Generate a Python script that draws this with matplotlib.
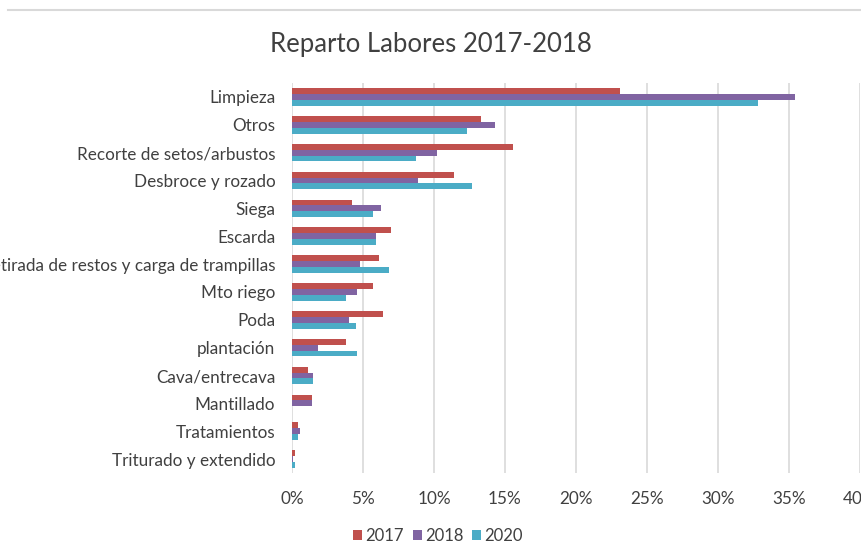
import numpy as np
import matplotlib
matplotlib.use("Agg")
import matplotlib.pyplot as plt
from matplotlib.lines import Line2D
from matplotlib.ticker import PercentFormatter

labores = ["Limpieza", "Otros", "Recorte de setos/arbustos", "Desbroce y rozado",
           "Siega", "Escarda", "Retirada de restos y carga de trampillas",
           "Mto riego", "Poda", "plantación", "Cava/entrecava", "Mantillado",
           "Tratamientos", "Triturado y extendido"]
v2017 = [23.1, 13.3, 15.6, 11.4, 4.2, 6.95, 6.15, 5.7, 6.4, 3.8, 1.1, 1.4, 0.45, 0.2]
v2018 = [35.4, 14.3, 10.2, 8.9, 6.3, 5.9, 4.8, 4.6, 4.0, 1.8, 1.5, 1.4, 0.6, 0.07]
v2020 = [32.8, 12.3, 8.7, 12.7, 5.7, 5.9, 6.8, 3.8, 4.5, 4.6, 1.5, 0.0, 0.45, 0.2]

plt.rcParams['font.family'] = ['Lato', 'DejaVu Sans']

fig = plt.figure(figsize=(8.61, 5.58), dpi=100)
ax = fig.add_axes([0.3391, 0.1523, 0.6597, 0.699])

y = np.arange(len(labores))
h = 0.21
series = [(v2017, "2017", "#C0504D", -h), (v2018, "2018", "#8064A2", 0), (v2020, "2020", "#4BACC6", h)]
for vals, name, col, off in series:
    ax.barh(y + off, vals, height=h, color=col, label=name, zorder=3)

ax.set_ylim(len(labores) - 0.5, -0.5)
ax.set_xlim(0, 40)
ax.set_xticks(np.arange(0, 41, 5))
ax.xaxis.set_major_formatter(PercentFormatter(decimals=0))
ax.set_yticks(y)
ax.set_yticklabels(labores)
ax.tick_params(axis='both', length=0, labelsize=12.3, labelcolor='#404040')
ax.tick_params(axis='y', pad=12)
ax.tick_params(axis='x', pad=13)
ax.grid(axis='x', color='#d9d9d9', linewidth=1.2, zorder=0)
for s in ax.spines.values():
    s.set_visible(False)

fig.text(0.5, 0.92, "Reparto Labores 2017-2018", ha='center', va='center',
         fontsize=18.5, color='#404040')

# thin border line across the top
fig.add_artist(Line2D([8 / 861, 1.0], [1 - 10 / 558, 1 - 10 / 558],
                      color='#d9d9d9', linewidth=1.5))

leg = fig.legend(loc='center', bbox_to_anchor=(438 / 861, 1 - 536 / 558), ncol=3,
                 frameon=False, fontsize=12, handlelength=0.55, handleheight=0.55,
                 handletextpad=0.2, columnspacing=0.5)
for t in leg.get_texts():
    t.set_color('#404040')

fig.savefig("out.png", dpi=100)
